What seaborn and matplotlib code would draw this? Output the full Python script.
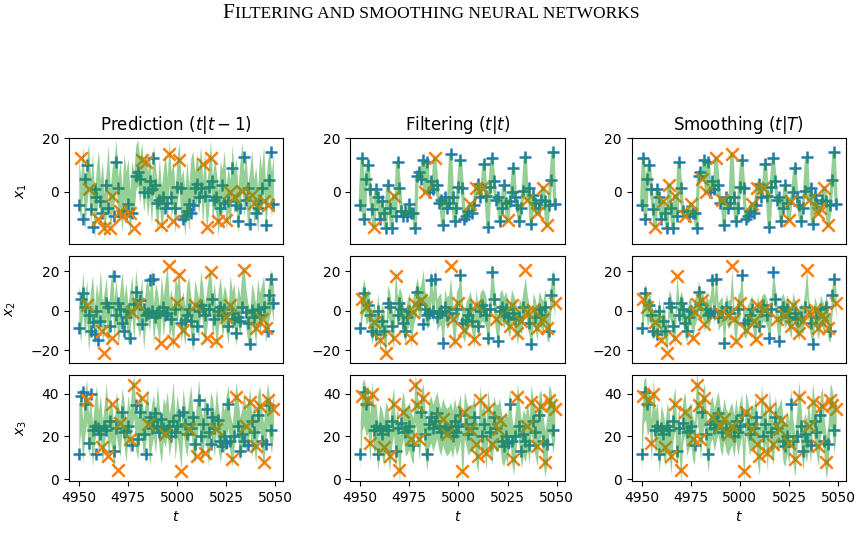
import numpy as np
import matplotlib.pyplot as plt
import seaborn as sns
from matplotlib.offsetbox import TextArea, HPacker, AnnotationBbox

sns.set_style("ticks", {"axes.edgecolor": "black", "xtick.color": "black",
                        "ytick.color": "black", "text.color": "black",
                        "axes.labelcolor": "black"})
plt.rcParams['font.family'] = ['DejaVu Sans']

#%%
# values, t = 4950 ... 5049
t = np.arange(4950, 5050)

x1 = [-5, 12.5, -10, 5, 10, 1, -6.5, -13, 1, -2,
      -10, -3.5, -8, -13.5, 2.5, -6, -13.5, -1.5, -9, 11,
      1.5, -7, -9, -7, -9, -4.5, -8, -8, -13.5, 6,
      7.5, 5, 12, 0, 11, 0, 4, 1, 12.5, 2.5,
      -4, -3, -12.5, -2, -6, -4, 14, -2, -11, -6,
      2, 12, 1.5, -10, -9, -7, -4.5, -8, -5, 1.5,
      3, -2, 1.5, 10.5, -1.5, -13, 2, 12.5, 4, -3,
      -2, -11, -6, 2.5, -4, -10.5, -3.5, 0, 9, -2,
      -5, -11, -6, 0.5, 13, -3, 1.5, -12, -1, -4,
      -8, -6, -3, 1.5, -3.5, -12.5, -5, 4.5, 15, -4.5]

x2 = [-9, 6, 9, 2, 3, -2, -10.5, -5.5, -12, 0,
      -15, -5, -10.5, -21.5, 4, 2, -8, -14, 17.5, -2,
      4, 1, -6.5, -10.5, -3, 0, -14, -0.5, 3.5, 9.5,
      3.5, 5.5, -7, 1, -2, -1, 15.5, 0, 16, -3,
      -1, 0, -16.5, 2, -2, -1, 22.5, -4, -15.5, 1,
      4, 18, -6.5, -10, -4.5, -2, 1, -5, -14.5, 3,
      -8, 0, 3, 1, -2, -14, 1, 19.5, 6, -4,
      -15.5, 0, 2, -2, 1, -3, -8, 3, -1, -4,
      -11.5, -3, -5, 2, 20.5, -0.5, -6, -17, 0.5, -3,
      -9, 1, -2, -4, 2, -9, -10.5, 8, 16, 4]

x3 = [12, 39, 41, 35, 37, 17, 40, 23, 25, 12,
      24, 21, 15, 25, 23, 11, 27, 35, 13, 24,
      4.5, 26.5, 31.5, 22, 22.5, 25, 19, 16, 44, 34.5,
      19, 31.5, 38, 21, 12, 26, 29, 24, 27, 31,
      25, 22, 28, 24, 21, 23, 25, 20, 27, 22,
      25, 30, 4, 31.5, 26, 21, 23.5, 24, 29, 16.5,
      11, 37, 20, 26, 12.5, 33, 22, 16.5, 29, 24,
      23.5, 27.5, 18, 15.5, 20, 17, 35, 18, 9.5, 20,
      38.5, 25, 13, 21, 18, 25, 16, 36, 27, 22,
      15.5, 30, 34, 18, 8, 16.5, 37, 34.5, 23, 33]

# positions (0 = t 4950) that are drawn as orange crosses
cross_pred_1 = [1, 5, 10, 13, 16, 17, 21, 22, 26, 28, 32, 34, 42, 46, 48, 51,
                63, 65, 67, 71, 75, 77, 79, 83, 88, 89, 94, 96]
cross_filt_1 = [7, 17, 33, 38, 56, 59, 62, 75, 85, 90, 93, 95]
cross_smoo_1 = [7, 11, 14, 17, 22, 25, 31, 33, 38, 41, 46, 56, 59, 62, 75, 76,
                85, 90, 91, 93, 95]

cross_pred_2 = [4, 12, 13, 17, 27, 30, 42, 46, 48, 50, 51, 53, 59, 65, 67, 70,
                75, 77, 84, 90, 93, 95]
cross_filt_2 = [1, 3, 7, 10, 13, 17, 18, 26, 27, 28, 31, 46, 47, 48, 50, 53, 58,
                59, 69, 76, 77, 80, 82, 84, 85, 88, 90, 93, 95, 99]
cross_smoo_2 = [1, 3, 7, 10, 13, 17, 18, 26, 27, 28, 31, 32, 40, 44, 46, 47, 48,
                50, 53, 57, 58, 59, 63, 69, 73, 76, 77, 80, 82, 84, 85, 88, 90,
                92, 93, 95, 99]

cross_pred_3 = [4, 12, 15, 17, 20, 21, 26, 28, 32, 35, 44, 52, 56, 60, 64, 70,
                78, 80, 85, 87, 90, 92, 94, 96, 99]
cross_filt_3 = [1, 4, 5, 6, 12, 15, 17, 20, 22, 26, 28, 29, 30, 32, 42, 44, 52,
                53, 56, 59, 60, 61, 64, 65, 67, 70, 71, 78, 80, 85, 87, 90, 92,
                94, 96, 97, 99]
cross_smoo_3 = [1, 4, 5, 6, 12, 15, 17, 20, 22, 26, 28, 29, 30, 32, 36, 40, 42,
                44, 46, 52, 53, 56, 59, 60, 61, 64, 65, 67, 70, 71, 75, 78, 80,
                85, 87, 90, 92, 94, 96, 97, 99]

# centre of the green band for each panel, and its half width
band_pred_1 = [4, -3, 9, -6, 3, 10, -4, 6, -9, 1,
               7, -4, 3, -9, 0, 9, -7, 1, 4, 11,
               -3, 3, -7, 6, -1, 4, -8, 3, -1, 9,
               11, 4, 10, 1, 7, -1, 6, -4, 9, 1,
               -6, 4, -7, 0, 6, -3, 11, -1, 3, -7,
               4, 10, -3, 0, -8, 3, -6, 4, 7, -1,
               6, 0, 9, -4, 7, -6, 1, 11, -3, 4,
               -1, -8, 3, 0, 7, -6, 1, -4, 9, 0,
               4, -7, 3, 10, -1, 6, -6, 0, 7, -4,
               1, -7, 6, 0, 9, -6, 3, 7, -1, 6]
band_filt_1 = x1
band_smoo_1 = x1

band_pred_2 = [3, -7, 10, -4, 6, -11, 1, 8, -8, 4,
               -3, 11, -6, 0, 7, -10, 3, 12, -4, 6,
               -8, 1, 10, -3, 4, -7, 0, 8, -6, 11,
               1, -4, 7, -10, 3, 6, -1, 12, -7, 4,
               0, -8, 8, -3, 6, 13, -4, 1, -10, 7,
               3, 11, -6, 0, -8, 4, 7, -3, -11, 6,
               1, -4, 10, 3, -7, 0, 8, 12, -3, 4,
               -10, 1, 7, -4, 3, -1, -7, 8, 0, 4,
               -8, 3, -3, 10, 13, 1, -6, -10, 4, 0,
               -7, 6, -1, 3, 8, -6, 0, 7, 11, 3]
band_filt_2 = [-6, 4, 8, 1, 3, -3, -9, -4, -10, 1,
               -12, -4, -8, -16, 5, 2, -6, -11, 14, -1,
               4, 1, -5, -8, -2, 1, -11, 0, 4, 9,
               3, 6, 13, 2, -1, 0, 13, 1, 14, -2,
               0, 1, -13, 3, -1, 0, 9, -3, -12, 2,
               4, 15, -5, -8, -3, -1, 2, -4, -11, 3,
               -6, 1, 3, 2, -1, -11, 2, 16, 6, -3,
               -12, 1, 3, -1, 2, -2, -6, 3, 0, -3,
               -9, -2, -4, 3, 9, 0, -5, -13, 1, -2,
               -7, 2, -1, -3, 3, -7, -8, 7, 13, 4]
band_smoo_2 = [-7, 2, 7, -1, 2, -2, -8, -5, -9, 0,
               -11, -3, -9, -14, 4, 1, -7, -10, 12, -2,
               3, 0, -6, -9, -1, 0, -10, -1, 2, 8,
               2, 4, -4, 1, -2, 1, 12, 0, 12, -3,
               -1, 0, -12, 2, -2, -1, 14, -4, -11, 1,
               3, 13, -6, -7, -4, -2, 1, -5, -10, 2,
               -7, 0, 2, 1, -2, -10, 1, 14, 5, -4,
               -11, 0, 2, -2, 1, -3, -7, 2, -1, -4,
               -8, -3, -5, 2, 15, -1, -6, -12, 0, -3,
               -8, 1, -2, -4, 2, -8, -9, 6, 12, 3]

band_pred_3 = [23.5, 32.5, 17.5, 29.5, 37, 20.5, 28, 16, 26.5, 34,
               22, 29.5, 17.5, 25, 35.5, 19, 28, 23.5, 14.5, 31,
               25, 20.5, 32.5, 26.5, 17.5, 29.5, 22, 34, 38.5, 23.5,
               19, 31, 28, 20.5, 26.5, 32.5, 16, 25, 29.5, 22,
               34, 23.5, 17.5, 28, 25, 31, 20.5, 26.5, 35.5, 19,
               29.5, 23.5, 14.5, 32.5, 25, 20.5, 28, 34, 22, 17.5,
               26.5, 37, 23.5, 19, 29.5, 25, 16, 31, 28, 20.5,
               32.5, 23.5, 17.5, 26.5, 22, 29.5, 34, 20.5, 16, 25,
               35.5, 28, 19, 23.5, 31, 22, 26.5, 32.5, 20.5, 25,
               17.5, 29.5, 34, 23.5, 16, 26.5, 35.5, 28, 22, 31]
band_filt_3 = [16, 34, 36, 31, 33, 19, 35, 23, 25, 15,
               24, 22, 17, 25, 23, 14, 26, 32, 16, 24,
               9, 26, 30, 22, 23, 25, 20, 18, 38, 31,
               20, 30, 34, 22, 15, 26, 28, 24, 27, 30,
               25, 22, 27, 24, 22, 23, 25, 21, 27, 22,
               25, 29, 9, 30, 26, 22, 24, 24, 28, 18,
               14, 33, 21, 26, 15, 31, 22, 18, 28, 24,
               24, 27, 19, 17, 21, 18, 32, 19, 13, 21,
               34, 25, 16, 22, 19, 25, 18, 33, 26, 22,
               17, 29, 31, 19, 12, 18, 33, 31, 23, 30]
band_smoo_3 = [14, 36, 38, 30, 34, 18, 37, 22, 26, 13,
               25, 21, 16, 26, 22, 12, 28, 33, 14, 25,
               7, 27, 31, 21, 24, 26, 19, 17, 40, 32,
               19, 31, 35, 21, 13, 27, 29, 23, 28, 31,
               24, 21, 28, 23, 21, 24, 26, 20, 28, 21,
               26, 30, 7, 31, 27, 21, 25, 23, 29, 17,
               12, 35, 20, 27, 14, 32, 21, 17, 29, 23,
               25, 28, 18, 16, 22, 17, 33, 18, 11, 22,
               36, 26, 14, 21, 18, 26, 17, 35, 27, 21,
               16, 30, 33, 18, 10, 17, 35, 32, 22, 31]

# half width of the band; 0 means the band is too narrow to see and is drawn as a stroke
half_width = [[8.5, 0, 0],
              [10, 8, 7],
              [10, 11, 10]]

titles = [r'Prediction $(t|t-1)$', r'Filtering $(t|t)$', r'Smoothing $(t|T)$']
ylabels = [r'$x_1$', r'$x_2$', r'$x_3$']

truths = [x1, x2, x3]
crosses = [[cross_pred_1, cross_filt_1, cross_smoo_1],
           [cross_pred_2, cross_filt_2, cross_smoo_2],
           [cross_pred_3, cross_filt_3, cross_smoo_3]]
bands = [[band_pred_1, band_filt_1, band_smoo_1],
         [band_pred_2, band_filt_2, band_smoo_2],
         [band_pred_3, band_filt_3, band_smoo_3]]
ylims = [(-19.4, 20.1), (-26.3, 27.5), (-0.8, 48.7)]

#%%
fig, axes = plt.subplots(3, 3, figsize=(8.62, 5.35), dpi=100, sharex=True)
fig.subplots_adjust(left=0.080, right=0.9814, bottom=0.1009, top=0.7421,
                    wspace=0.313, hspace=0.118)

for r in range(3):
    y = np.asarray(truths[r], float)
    for c in range(3):
        ax = axes[r, c]
        is_x = np.zeros(len(t), bool)
        is_x[crosses[r][c]] = True

        sns.scatterplot(x=t[~is_x], y=y[~is_x], marker='+', color='C0',
                        s=70, linewidth=1.8, ax=ax, zorder=2)
        sns.scatterplot(x=t[is_x], y=y[is_x], marker='x', color='C1',
                        s=80, linewidth=1.8, ax=ax, zorder=2)

        m = np.asarray(bands[r][c], float)
        hw = half_width[r][c]
        if hw > 0:
            ax.fill_between(t, m - hw, m + hw, color='C2', alpha=0.5, lw=0, zorder=3)
        else:
            sns.lineplot(x=t, y=m, color='C2', alpha=0.5, lw=2.4, sort=False,
                         estimator=None, ax=ax, zorder=3)

        ax.set_ylim(*ylims[r])
        ax.set_ylabel('')
        ax.tick_params(labelsize=10)
        if r < 2:
            ax.tick_params(axis='x', bottom=False)
        else:
            ax.set_xlabel(r'$t$', fontsize=10)
        if r == 0:
            ax.set_title(titles[c], fontsize=12)
    axes[r, 0].set_ylabel(ylabels[r], fontsize=10, labelpad=9)

for ax in axes[0]:
    ax.set_yticks([0, 20])
for ax in axes[1]:
    ax.set_yticks([-20, 0, 20])
for ax in axes[2]:
    ax.set_yticks([0, 20, 40])
axes[2, 0].set_xticks([4950, 4975, 5000, 5025, 5050])
axes[2, 0].set_xlim(4945, 5054)

# running header of the page, in small caps
big = TextArea("F", textprops=dict(family="Liberation Serif", size=15.5))
small = TextArea("ILTERING AND SMOOTHING NEURAL NETWORKS",
                 textprops=dict(family="Liberation Serif", size=12.5))
head = HPacker(children=[big, small], align="baseline", pad=0, sep=0)
fig.add_artist(AnnotationBbox(head, (0.5, 1 - 13.5 / 535), xycoords='figure fraction',
                              frameon=False, box_alignment=(0.5, 0.5)))

fig.savefig('out.png', dpi=100)
